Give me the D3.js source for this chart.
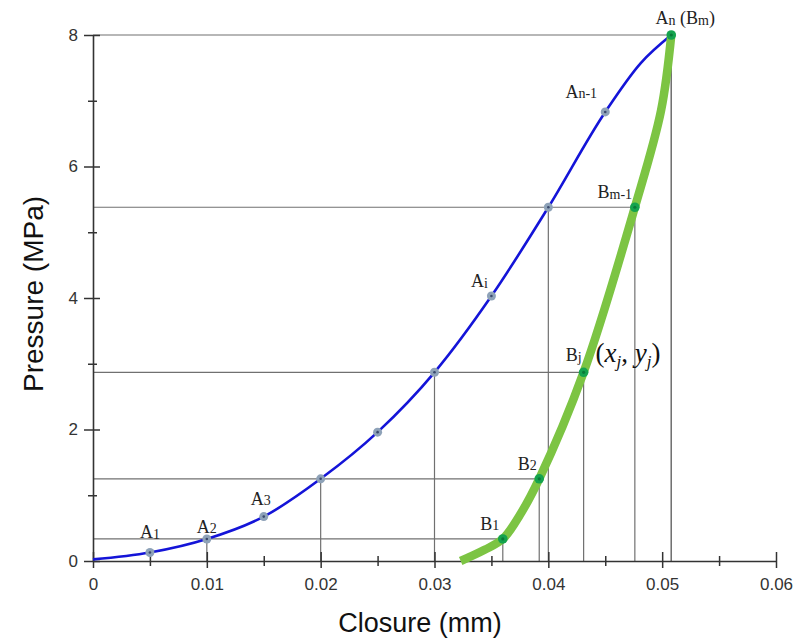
<!DOCTYPE html>
<html><head><meta charset="utf-8">
<script src="https://cdn.jsdelivr.net/npm/d3@7/dist/d3.min.js"></script>
<style>body{margin:0;background:#fff}svg{display:block}</style>
</head><body><svg id="c" width="799" height="639"></svg>
<script>
// ---- tick values / labels ----
const xTickValues = [0, 0.01, 0.02, 0.03, 0.04, 0.05, 0.06];
const xTickLabels = ["0", "0.01", "0.02", "0.03", "0.04", "0.05", "0.06"];
const xMinorTicks = [0.005, 0.015, 0.025, 0.035, 0.045, 0.055];
const yTickValues = [0, 2, 4, 6, 8];
const yTickLabels = ["0", "2", "4", "6", "8"];
const yMinorTicks = [1, 3, 5, 7];

// ---- loading curve (blue) ----
const loadX = [0, 0.005, 0.01, 0.015, 0.02, 0.025, 0.03, 0.035, 0.04, 0.045, 0.0481, 0.0508];
const loadP = [0.025, 0.13, 0.335, 0.675, 1.25, 1.96, 2.87, 4.03, 5.38, 6.83, 7.57, 8.0];
// marked points A
const aX = [0.005, 0.01, 0.015, 0.02, 0.025, 0.03, 0.035, 0.04, 0.045];
const aP = [0.13, 0.335, 0.675, 1.25, 1.96, 2.87, 4.03, 5.38, 6.83];
const aNames = [["A","1"], ["A","2"], ["A","3"], null, null, null, ["A","i"], null, ["A","n-1"]];

// ---- unloading curve (green) ----
const unloadX = [0.0323, 0.0344, 0.036, 0.0375, 0.0392, 0.0431, 0.0476, 0.0499, 0.0508];
const unloadP = [0, 0.17, 0.335, 0.7, 1.25, 2.87, 5.38, 6.85, 8.0];
// marked points B
const bX = [0.036, 0.0392, 0.0431, 0.0476, 0.0508];
const bP = [0.335, 1.25, 2.87, 5.38, 8.0];
const bNames = [["B","1"], ["B","2"], ["B","j"], ["B","m-1"], ["A","n"," (B","m",")"]];
// A points that share a level with a B point (vertical guides)
const guideAX = [0.01, 0.02, 0.03, 0.04, 0.0508];
const guideAP = [0.335, 1.25, 2.87, 5.38, 8.0];

// ---- drawing ----
const svg = d3.select("#c");
const x = d3.scaleLinear().domain([0, 0.06]).range([93, 776]);
const y = d3.scaleLinear().domain([0, 8]).range([561, 35]);
const guide = "#707070";

const g = svg.append("g");
bX.forEach((bx, i) => {
  g.append("line").attr("x1", x(0)).attr("x2", x(bx)).attr("y1", y(bP[i])).attr("y2", y(bP[i]))
    .attr("stroke", guide).attr("stroke-width", 1.2);
  g.append("line").attr("x1", x(bx)).attr("x2", x(bx)).attr("y1", y(0)).attr("y2", y(bP[i]))
    .attr("stroke", guide).attr("stroke-width", 1.2);
});
guideAX.forEach((ax, i) => {
  g.append("line").attr("x1", x(ax)).attr("x2", x(ax)).attr("y1", y(0)).attr("y2", y(guideAP[i]))
    .attr("stroke", guide).attr("stroke-width", 1.2);
});

// axes
const font = "'Liberation Sans', Arial, sans-serif";
const xAxis = svg.append("g").attr("transform", `translate(0,${y(0)})`)
  .call(d3.axisBottom(x).tickValues(xTickValues).tickFormat((d, i) => xTickLabels[i])
    .tickSizeInner(8).tickSizeOuter(0).tickPadding(9));
xAxis.selectAll(".tick line").attr("y1", -9).attr("y2", 7);
const xMin = svg.append("g").attr("transform", `translate(0,${y(0)})`)
  .call(d3.axisBottom(x).tickValues(xMinorTicks).tickFormat("").tickSizeInner(5).tickSizeOuter(0));
xMin.select(".domain").remove();
xMin.selectAll(".tick line").attr("y1", -5).attr("y2", 5);

const yAxis = svg.append("g").attr("transform", `translate(${x(0)},0)`)
  .call(d3.axisLeft(y).tickValues(yTickValues).tickFormat((d, i) => yTickLabels[i])
    .tickSizeInner(8).tickSizeOuter(0).tickPadding(7));
yAxis.selectAll(".tick line").attr("x1", -9).attr("x2", 7);
const yMin = svg.append("g").attr("transform", `translate(${x(0)},0)`)
  .call(d3.axisLeft(y).tickValues(yMinorTicks).tickFormat("").tickSizeInner(5).tickSizeOuter(0));
yMin.select(".domain").remove();
yMin.selectAll(".tick line").attr("x1", -5).attr("x2", 4);

svg.selectAll(".domain").attr("stroke", "#333").attr("stroke-width", 1.6);
svg.selectAll(".tick line").attr("stroke", "#333").attr("stroke-width", 1.5);
svg.selectAll(".tick text").attr("font-family", font).attr("font-size", 17).attr("fill", "#333");

// axis titles
svg.append("text").attr("x", 420).attr("y", 632).attr("text-anchor", "middle")
  .attr("font-family", font).attr("font-size", 27).attr("fill", "#111").text("Closure (mm)");
svg.append("text").attr("transform", "translate(43,294) rotate(-90)").attr("text-anchor", "middle")
  .attr("font-family", font).attr("font-size", 28).attr("fill", "#111").text("Pressure (MPa)");

// curves
const lineA = d3.line().x((d) => x(d[0])).y((d) => y(d[1])).curve(d3.curveMonotoneX);
const lineB = d3.line().x((d) => x(d[0])).y((d) => y(d[1])).curve(d3.curveCatmullRom.alpha(0.5));
svg.append("path").datum(loadX.map((v, i) => [v, loadP[i]])).attr("d", lineA)
  .attr("fill", "none").attr("stroke", "#1414d8").attr("stroke-width", 2.6);
svg.append("path").datum(unloadX.map((v, i) => [v, unloadP[i]])).attr("d", lineB)
  .attr("fill", "none").attr("stroke", "#7cc443").attr("stroke-width", 8.5);

// markers
aX.forEach((ax, i) => {
  svg.append("circle").attr("cx", x(ax)).attr("cy", y(aP[i])).attr("r", 4.5).attr("fill", "#8ea2b8");
  svg.append("circle").attr("cx", x(ax)).attr("cy", y(aP[i])).attr("r", 1.3).attr("fill", "#3b4a6e");
});
bX.forEach((bx, i) => {
  svg.append("circle").attr("cx", x(bx)).attr("cy", y(bP[i])).attr("r", 4.8).attr("fill", "#14a34e");
  svg.append("circle").attr("cx", x(bx)).attr("cy", y(bP[i])).attr("r", 1.6).attr("fill", "#0a7a38");
});

// point labels
const serif = "'Liberation Serif', 'Times New Roman', serif";
function label(px, py, parts, anchor) {
  const t = svg.append("text").attr("x", px).attr("y", py).attr("text-anchor", anchor || "middle")
    .attr("font-family", serif).attr("fill", "#222");
  parts.forEach((p, k) => {
    const sub = k % 2 === 1;
    t.append("tspan").attr("font-size", sub ? 14 : 18).attr("dy", k === 0 ? 0 : (sub ? 0.5 : -0.5)).text(p);
  });
}
const aOff = [[0, -14], [0, -6], [-3, -12], null, null, null, [-12, -9], null, [-24, -14]];
aNames.forEach((n, i) => {
  if (!n) return;
  label(x(aX[i]) + aOff[i][0], y(aP[i]) + aOff[i][1], n);
});
const bOff = [[-13, -9], [-12, -9], [-10, -11], [-20, -9], [14, -11]];
bNames.forEach((n, i) => label(x(bX[i]) + bOff[i][0], y(bP[i]) + bOff[i][1], n));

// (x_j, y_j)
const bjx = x(bX[2]) + 12, bjy = y(bP[2]) - 10;
const t = svg.append("text").attr("x", bjx).attr("y", bjy).attr("font-family", serif)
  .attr("font-size", 27).attr("fill", "#111");
t.append("tspan").text("(");
t.append("tspan").attr("font-style", "italic").text("x");
t.append("tspan").attr("font-style", "italic").attr("font-size", 17).attr("dy", 5).text("j");
t.append("tspan").attr("dy", -5).text(", ");
t.append("tspan").attr("font-style", "italic").text("y");
t.append("tspan").attr("font-style", "italic").attr("font-size", 17).attr("dy", 5).text("j");
t.append("tspan").attr("dy", -5).text(")");
</script></body></html>
